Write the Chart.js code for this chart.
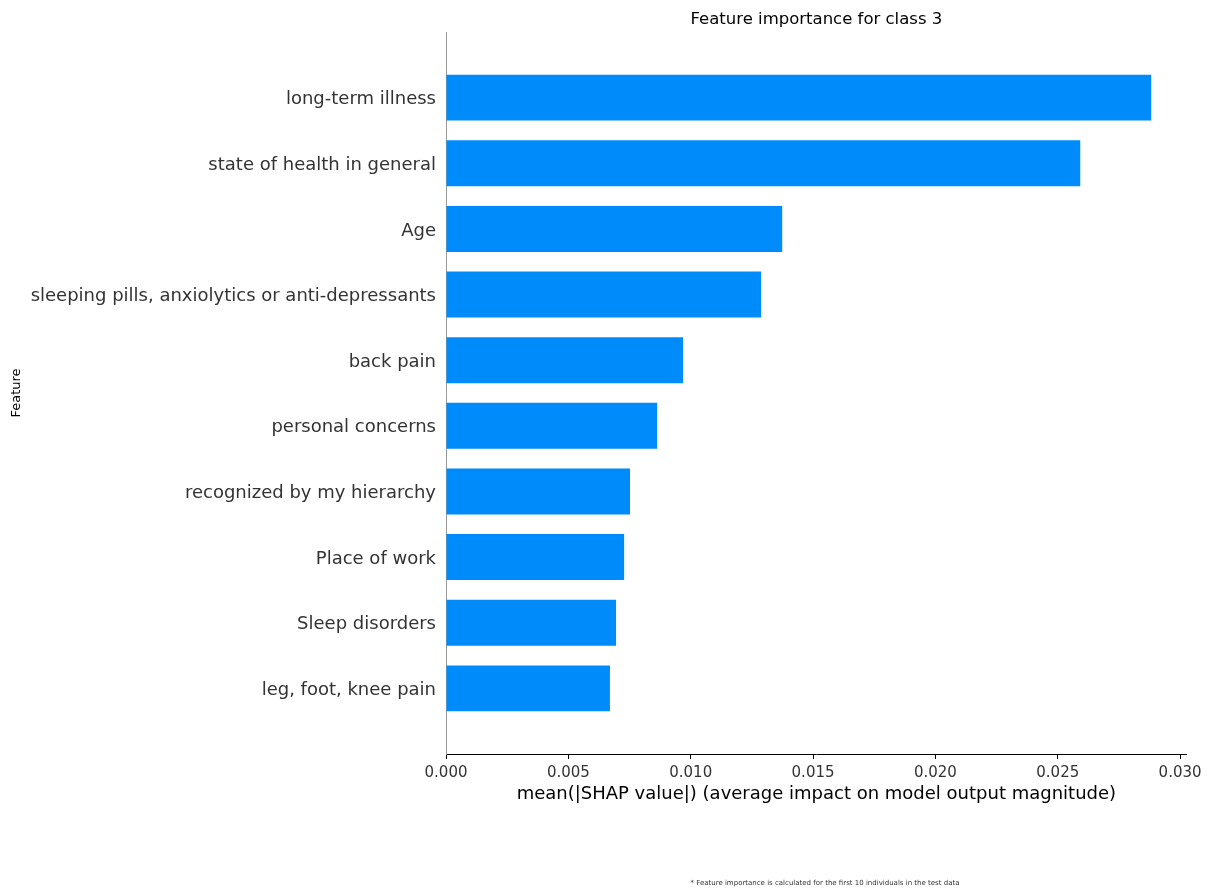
<!DOCTYPE html>
<html>
<head>
<meta charset="utf-8">
<script src="https://cdn.jsdelivr.net/npm/chart.js@4"></script>
<style>
  html, body { margin: 0; padding: 0; background: #fff; }
  #wrap { width: 1211px; height: 896px; }
</style>
</head>
<body>
<div id="wrap"><canvas id="c" width="1211" height="896"></canvas></div>
<script>
const categories = [
  "long-term illness",
  "state of health in general",
  "Age",
  "sleeping pills, anxiolytics or anti-depressants",
  "back pain",
  "personal concerns",
  "recognized by my hierarchy",
  "Place of work",
  "Sleep disorders",
  "leg, foot, knee pain"
];
const values = [0.02882, 0.02592, 0.01374, 0.01288, 0.00969, 0.00863, 0.00752, 0.00728, 0.00695, 0.00670];
const xTicks = [0.000, 0.005, 0.010, 0.015, 0.020, 0.025, 0.030];
const titleText = "Feature importance for class 3";
const xTitle = "mean(|SHAP value|) (average impact on model output magnitude)";
const yTitle = "Feature";
const footnote = "* Feature importance is calculated for the first 10 individuals in the test data";

const FONT = "'DejaVu Sans', sans-serif";

const labels = ["", ...categories, ""];
const data = [null, ...values, null];

const extraText = {
  id: 'extraText',
  afterDraw(chart) {
    const ctx = chart.ctx;
    const ca = chart.chartArea;
    const cx = (ca.left + ca.right) / 2;
    const ys = chart.scales.y;
    ctx.save();
    // category labels, positioned by the y scale
    ctx.fillStyle = '#333';
    ctx.textAlign = 'right';
    ctx.textBaseline = 'middle';
    ctx.font = "18px " + FONT;
    labels.forEach((lab, i) => {
      if (!lab) return;
      ctx.fillText(lab, ca.left - 10, ys.getPixelForValue(i) + 2);
    });
    // title
    ctx.fillStyle = '#000';
    ctx.textAlign = 'center';
    ctx.font = "16.5px " + FONT;
    ctx.fillText(titleText, cx, 19.5);
    // footnote
    ctx.fillStyle = '#333';
    ctx.font = "7px " + FONT;
    ctx.fillText(footnote, 825, 883);
    ctx.restore();
  }
};

new Chart(document.getElementById('c'), {
  type: 'bar',
  data: {
    labels: labels,
    datasets: [{
      data: data,
      backgroundColor: '#008bfb',
      borderWidth: 0,
      categoryPercentage: 0.7,
      barPercentage: 1.0
    }]
  },
  options: {
    indexAxis: 'y',
    responsive: false,
    animation: false,
    devicePixelRatio: 1,
    layout: { padding: { top: 32, right: 24.3, bottom: 91.2, left: 0 } },
    plugins: {
      legend: { display: false },
      tooltip: { enabled: false },
      title: { display: false }
    },
    scales: {
      x: {
        type: 'linear',
        min: 0,
        max: 0.03027,
        afterBuildTicks(scale) {
          scale.ticks = xTicks.map(v => ({ value: v }));
        },
        afterFit(scale) { scale.height = 50.8; },
        grid: {
          display: true,
          drawOnChartArea: false,
          drawTicks: true,
          tickLength: 5,
          color: '#000'
        },
        border: { display: true, color: '#000', width: 1 },
        ticks: {
          color: '#333',
          font: { family: FONT, size: 15 },
          padding: 5,
          maxRotation: 0,
          callback: (v) => Number(v).toFixed(3)
        },
        title: {
          display: true,
          text: xTitle,
          color: '#000',
          font: { family: FONT, size: 18 },
          padding: { top: 0, bottom: 0 }
        }
      },
      y: {
        type: 'category',
        offset: false,
        afterFit(scale) { scale.width = 446; },
        grid: { display: false, drawTicks: false },
        border: { display: true, color: '#999', width: 1 },
        ticks: { display: false, autoSkip: false },
        title: {
          display: true,
          text: yTitle,
          color: '#000',
          font: { family: FONT, size: 13 },
          padding: { top: 9.2, bottom: 0 }
        }
      }
    }
  },
  plugins: [extraText]
});
</script>
</body>
</html>
